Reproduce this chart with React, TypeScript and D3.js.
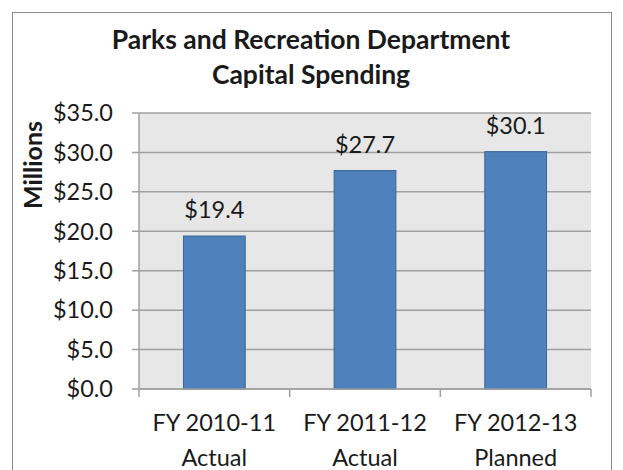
import React from "react";
import * as d3 from "d3";

const categories: string[][] = [
  ["FY 2010-11", "Actual"],
  ["FY 2011-12", "Actual"],
  ["FY 2012-13", "Planned"],
];
const values: number[] = [19.4, 27.7, 30.1];
const yTicks: number[] = [0, 5, 10, 15, 20, 25, 30, 35];
const titleLines: string[] = ["Parks and Recreation Department", "Capital Spending"];
const yAxisTitle = "Millions";

const W = 623;
const H = 470;
const plot = { left: 139, right: 591, top: 113, bottom: 389 };
const FONT = "Lato, 'Open Sans', sans-serif";
const LABEL_SIZE = 23.5;

export default function App() {
  const x = d3
    .scaleBand<number>()
    .domain(d3.range(values.length))
    .range([plot.left, plot.right])
    .paddingInner(0.59)
    .paddingOuter(0.295);
  const xOuter = d3
    .scaleBand<number>()
    .domain(d3.range(values.length))
    .range([plot.left, plot.right]);
  const y = d3.scaleLinear().domain([0, 35]).range([plot.bottom, plot.top]);
  const fmt = (v: number) => "$" + v.toFixed(1);
  const boundaries = [...d3.range(values.length).map((i) => xOuter(i)!), plot.right];

  return (
    <svg
      width={W}
      height={H}
      style={{ position: "absolute", left: 0, top: 0, display: "block", background: "#fff" }}
      fontFamily={FONT}
    >
      <rect x={12.5} y={12.5} width={599} height={470} fill="#fff" stroke="#8c8c8c" strokeWidth={1} />
      {titleLines.map((t, i) => (
        <text
          key={t}
          x={311}
          y={49 + i * 35}
          textAnchor="middle"
          fontWeight="bold"
          fontSize={26.5}
          fill="#1a1a1a"
        >
          {t}
        </text>
      ))}
      <text
        transform={`translate(42,165) rotate(-90)`}
        textAnchor="middle"
        fontWeight="bold"
        fontSize={25}
        fill="#1a1a1a"
      >
        {yAxisTitle}
      </text>
      <rect
        x={plot.left}
        y={plot.top}
        width={plot.right - plot.left}
        height={plot.bottom - plot.top}
        fill="#e7e7e7"
      />
      {yTicks.map((t) => (
        <g key={t}>
          <line
            x1={plot.left - 7}
            x2={plot.right}
            y1={y(t)}
            y2={y(t)}
            stroke="#a0a0a0"
            strokeWidth={1.5}
          />
          <text
            x={plot.left - 26}
            y={y(t)}
            dy="0.35em"
            textAnchor="end"
            fontSize={LABEL_SIZE}
            fill="#1a1a1a"
          >
            {fmt(t)}
          </text>
        </g>
      ))}
      <line x1={plot.left} x2={plot.left} y1={plot.top} y2={plot.bottom} stroke="#a0a0a0" strokeWidth={1.5} />
      {values.map((v, i) => (
        <g key={i}>
          <rect
            x={x(i)!}
            y={y(v)}
            width={x.bandwidth()}
            height={y(0) - y(v)}
            fill="#4f81bd"
            stroke="#3b6593"
            strokeWidth={1}
          />
          <text
            x={x(i)! + x.bandwidth() / 2}
            y={y(v) - 18}
            textAnchor="middle"
            fontSize={LABEL_SIZE}
            fill="#1a1a1a"
          >
            {fmt(v)}
          </text>
        </g>
      ))}
      <line x1={plot.left} x2={plot.right} y1={plot.bottom} y2={plot.bottom} stroke="#a0a0a0" strokeWidth={1.5} />
      {boundaries.map((b, i) => (
        <line key={i} x1={b} x2={b} y1={plot.bottom} y2={plot.bottom + 8} stroke="#a0a0a0" strokeWidth={1.5} />
      ))}
      {categories.map((lines, i) => (
        <text
          key={i}
          x={xOuter(i)! + xOuter.bandwidth() / 2}
          y={431}
          textAnchor="middle"
          fontSize={LABEL_SIZE}
          fill="#1a1a1a"
        >
          {lines.map((l, j) => (
            <tspan key={j} x={xOuter(i)! + xOuter.bandwidth() / 2} dy={j === 0 ? 0 : 35}>
              {l}
            </tspan>
          ))}
        </text>
      ))}
    </svg>
  );
}
